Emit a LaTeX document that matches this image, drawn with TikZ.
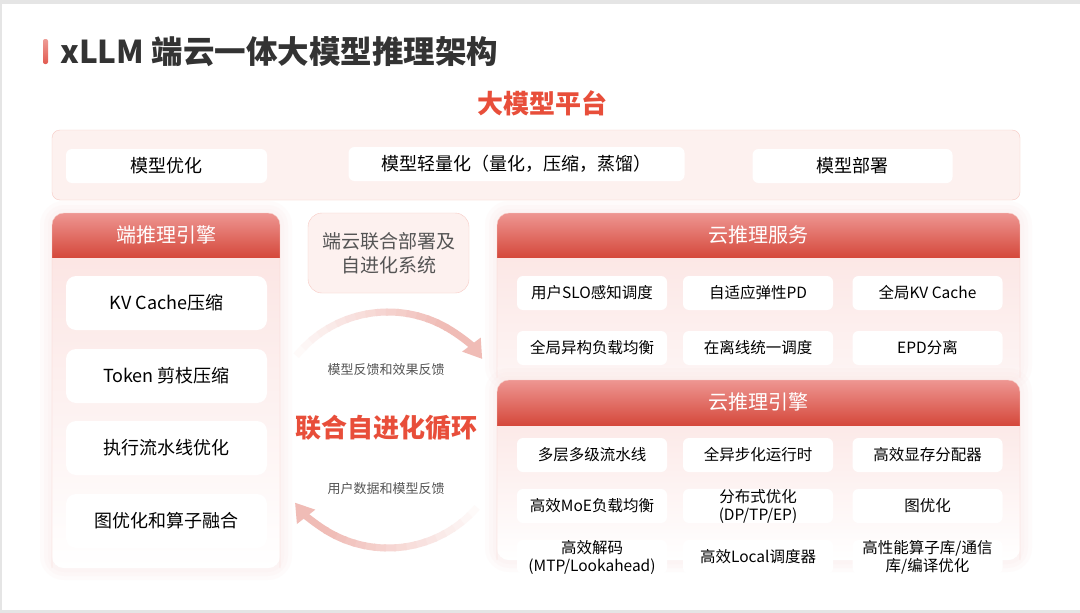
\documentclass[tikz,border=0pt]{standalone}
\usepackage{fontspec}
\setmainfont{Noto Sans CJK SC}
\usetikzlibrary{arrows.meta, positioning, calc}
\definecolor{pagegray}{RGB}{229, 229, 229}
\definecolor{titlegray}{RGB}{51, 51, 51}
\definecolor{textgray}{RGB}{85, 85, 85}
\definecolor{titlered}{RGB}{232, 78, 58}
\definecolor{barred}{RGB}{226, 90, 80}
\definecolor{hdtop}{RGB}{238, 150, 146}
\definecolor{hdbot}{RGB}{213, 73, 60}
\definecolor{panelpink}{RGB}{251, 226, 224}
\definecolor{platpink}{RGB}{253, 241, 239}
\definecolor{edgepink}{RGB}{247, 202, 196}
\definecolor{arcpink}{RGB}{240, 188, 182}

\tikzset{
    itembox/.style={fill=white, rounded corners=6pt, inner sep=0pt, minimum height=34pt, align=center, font=\fontsize{15.5}{18}\selectfont},
    platitem/.style={itembox, font=\fontsize{18}{20}\selectfont},
    sideitem/.style={itembox, minimum width=201pt, minimum height=54pt, rounded corners=10pt, font=\fontsize{18}{20}\selectfont},
    cloudcol/.style={itembox, minimum width=150pt},
    headtext/.style={text=white, inner sep=0pt, font=\fontsize{20}{22}\selectfont},
    feedtext/.style={text=textgray, inner sep=0pt, font=\fontsize{13}{15}\selectfont},
    looparc/.style={line width=7pt},
}

% panel: x1, y1, x2, y2, header bottom, body bottom colour
\newcommand{\drawpanel}[6]{%
    \foreach \g in {12,8,4}
        \fill[panelpink, opacity=0.12, rounded corners={12+\g}] ({#1-\g},{#2-\g}) rectangle ({#3+\g},{#4+\g});
    \begin{scope}
        \clip[rounded corners=12pt] (#1,#2) rectangle (#3,#4);
        \fill[white] (#1,#2) rectangle (#3,#4);
        \shade[top color=panelpink, bottom color=#6] (#1,#2) rectangle (#3,#4);
        \shade[top color=hdtop, bottom color=hdbot] (#1,#2) rectangle (#3,#5);
    \end{scope}
    \draw[edgepink, rounded corners=12pt] (#1,#4) -- (#1,#2) -- (#3,#2) -- (#3,#4);
}

\begin{document}
\begin{tikzpicture}[x=1pt, y=-1pt]
    \useasboundingbox (0,0) rectangle (1080,613);
    \fill[pagegray] (0,0) rectangle (1080,613);
    \fill[white] (2,4) rectangle (1080,610);

    % Title
    \shade[top color=barred!60, bottom color=barred, rounded corners=2pt] (43,39) rectangle (48,64);
    \node[anchor=west, inner sep=0pt, text=titlegray, font=\fontsize{31.5}{32}\selectfont\bfseries] (title) at (60,52) {xLLM 端云一体大模型推理架构};
    \node[inner sep=0pt, text=titlered, font=\fontsize{26}{28}\selectfont\bfseries] (platform) at (542,103) {大模型平台};

    % Platform
    \draw[edgepink, fill=platpink, rounded corners=8pt] (52,130) rectangle (1020,200);
    \node[platitem, minimum width=201pt] (modelopt) at (166.5,166) {模型优化};
    \node[platitem, minimum width=336pt] (compress) at (516.5,164) {模型轻量化（量化，压缩，蒸馏）};
    \node[platitem, minimum width=200pt] (deploy) at (852.5,166) {模型部署};

    % Edge engine
    \drawpanel{52}{213}{280}{568}{257}{white}
    \node[headtext] (edgehead) at (166,235) {端推理引擎};
    \node[sideitem] (kvcomp) at (166.5,303) {KV Cache压缩};
    \node[sideitem] (prune) at (166.5,376) {Token 剪枝压缩};
    \node[sideitem] (pipe) at (166.5,448) {执行流水线优化};
    \node[sideitem] (fuse) at (166.5,521) {图优化和算子融合};

    % Joint system and loop
    \node[draw=edgepink, fill=platpink, rounded corners=14pt, minimum width=161pt, minimum height=80pt, align=center, text=textgray, font=\fontsize{19}{24}\selectfont] (joint) at (388.5,253) {端云联合部署及\\自进化系统};
    \coordinate (hub) at (388,430);
    \foreach \i in {0,...,15} {
        \draw[looparc, arcpink!\the\numexpr 8+6*\i\relax!white] (hub) ++({-141+5*\i}:118) arc[start angle={-141+5*\i}, end angle={-135+5*\i}, radius=118];
        \draw[looparc, arcpink!\the\numexpr 8+6*\i\relax!white] (hub) ++({41+5*\i}:118) arc[start angle={41+5*\i}, end angle={47+5*\i}, radius=118];
    }
    \draw[looparc, arcpink, -{Triangle[length=18pt, width=22pt]}] (hub) ++(-61:118) arc[start angle=-61, end angle=-37, radius=118];
    \draw[looparc, arcpink, -{Triangle[length=18pt, width=22pt]}] (hub) ++(121:118) arc[start angle=121, end angle=142, radius=118];
    \node[feedtext] (upfeed) at (386,370) {模型反馈和效果反馈};
    \node[inner sep=0pt, text=titlered, font=\fontsize{26}{28}\selectfont\bfseries] (loop) at (386,428) {联合自进化循环};
    \node[feedtext] (downfeed) at (386,489) {用户数据和模型反馈};

    % Cloud service
    \drawpanel{497}{213}{1020}{378}{257}{panelpink!35!white}
    \node[headtext] (servehead) at (758.5,235) {云推理服务};
    \node[cloudcol] (slo) at (592,293) {用户SLO感知调度};
    \node[cloudcol] (elastic) at (758,293) {自适应弹性PD};
    \node[cloudcol] (globalkv) at (927.5,293) {全局KV Cache};
    \node[cloudcol] (hetero) at (592,348) {全局异构负载均衡};
    \node[cloudcol] (mixed) at (758,348) {在离线统一调度};
    \node[cloudcol] (epd) at (927.5,348) {EPD分离};

    % Cloud engine
    \drawpanel{497}{380}{1020}{560}{425}{white}
    \node[headtext] (enginehead) at (758.5,402) {云推理引擎};
    \node[cloudcol] (stages) at (592,455) {多层多级流水线};
    \node[cloudcol] (asyncrt) at (758,455) {全异步化运行时};
    \node[cloudcol] (memalloc) at (927.5,455) {高效显存分配器};
    \node[cloudcol] (moe) at (592,506) {高效MoE负载均衡};
    \node[cloudcol] (dist) at (758,506) {分布式优化\\(DP/TP/EP)};
    \node[cloudcol] (graph) at (927.5,506) {图优化};
    \node[cloudcol] (decode) at (592,557) {高效解码\\(MTP/Lookahead)};
    \node[cloudcol] (localsched) at (758,557) {高效Local调度器};
    \node[cloudcol] (kernels) at (927.5,557) {高性能算子库/通信\\库/编译优化};
\end{tikzpicture}
\end{document}
